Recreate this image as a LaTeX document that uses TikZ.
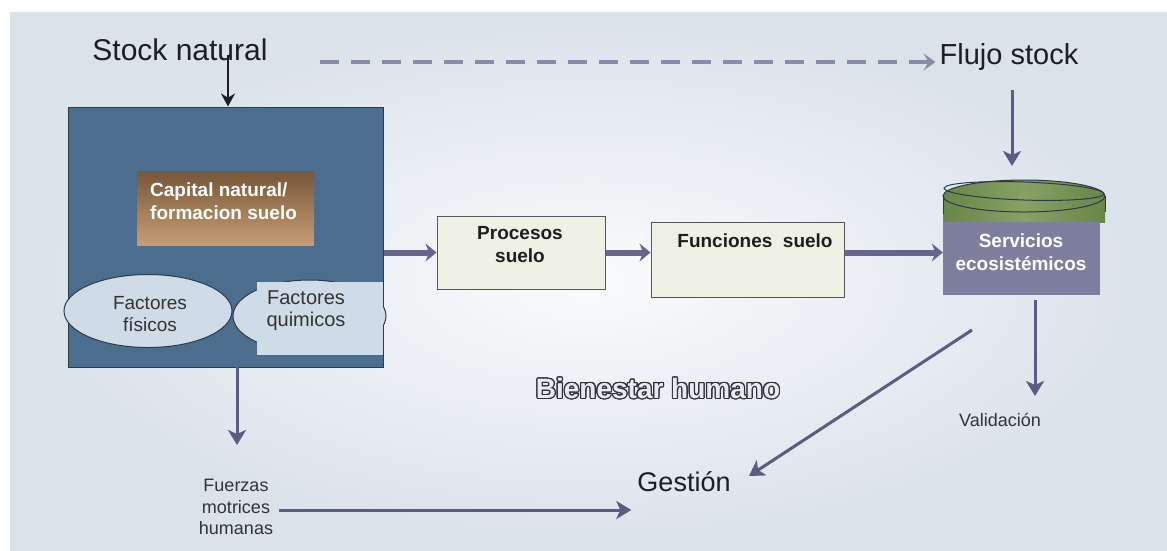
\documentclass[tikz,border=0pt]{standalone}
\usepackage{fontspec}
\setmainfont{Liberation Sans}
\usepackage[copies]{contour}
\usetikzlibrary{arrows.meta,shapes.geometric}

\definecolor{bgin}{HTML}{FAFBFC}
\definecolor{bgout}{HTML}{DAE2EA}
\definecolor{natfill}{HTML}{4B6E8E}
\definecolor{natline}{HTML}{2C3A4A}
\definecolor{ovfill}{HTML}{CFDCE7}
\definecolor{captop}{HTML}{765739}
\definecolor{capbot}{HTML}{C79D72}
\definecolor{procfill}{HTML}{EEF1E3}
\definecolor{procline}{HTML}{55585A}
\definecolor{servfill}{HTML}{7E7E9E}
\definecolor{grnedge}{HTML}{6A8548}
\definecolor{grnmid}{HTML}{88A064}
\definecolor{arrc}{HTML}{5C5C82}
\definecolor{thickc}{HTML}{66668C}
\definecolor{dashc}{HTML}{8A8AAB}
\definecolor{txtc}{HTML}{1E1E1E}
\definecolor{smalltxt}{HTML}{333333}
\definecolor{bienfill}{HTML}{E9EBF0}
\definecolor{bienline}{HTML}{2F3038}

\contourlength{1.2pt}

\tikzset{
  bigtext/.style={font=\fontsize{29}{34}\selectfont, text=txtc, inner sep=4pt},
  midtext/.style={font=\fontsize{19}{22}\selectfont, text=smalltxt, align=center, inner sep=2pt},
  boldtext/.style={font=\fontsize{19}{23}\selectfont\bfseries, align=center, inner sep=0pt},
  natbox/.style={draw=natline, fill=natfill, line width=1pt, inner sep=0pt},
  factov/.style={ellipse, draw=natline, fill=ovfill, line width=1pt, inner sep=0pt},
  procbox/.style={draw=procline, fill=procfill, line width=1pt, inner sep=0pt},
  flowarrow/.style={draw=thickc, line width=6pt, -{Stealth[length=11pt,width=18pt]}},
  thinarrow/.style={draw=arrc, line width=3pt, -{Stealth[length=15pt,width=18pt,inset=4pt]}},
  dasharrow/.style={draw=dashc, line width=4pt, dash pattern=on 19pt off 12pt,
    -{Stealth[length=12pt,width=17pt,inset=5pt]}},
  blackarrow/.style={draw=txtc, line width=2.5pt, -{Stealth[length=13pt,width=14pt]}},
}

\begin{document}
\begin{tikzpicture}[x=1pt,y=-1pt]
\useasboundingbox (0,0) rectangle (1167,550);
% backdrop
\fill[white] (0,0) rectangle (1167,550);
\shade[inner color=bgin, outer color=bgout] (10,12) rectangle (1167,550);

% natural stock block
\node[natbox, minimum width=315pt, minimum height=260pt] (nat) at (225.5,237) {};
\node[top color=captop, bottom color=capbot, minimum width=177pt, minimum height=74pt,
      inner sep=0pt] (cap) at (225.5,208) {};
\node[boldtext, text=white, align=left, anchor=west] (capt) at (150,201)
  {Capital natural/\\formacion suelo};

\node[factov, minimum width=168pt, minimum height=73pt] (fis) at (148,311) {};
\node[midtext] (fist) at (150,314) {Factores\\físicos};

\node[factov, minimum width=153pt, minimum height=72pt] (qui) at (309.5,316) {};
\fill[ovfill] (257,282) rectangle (382.5,355);
\node[midtext, font=\fontsize{20}{22}\selectfont] (quit) at (306,311) {Factores\\quimicos};

% process chain
\node[procbox, minimum width=168pt, minimum height=73pt] (proc) at (521,252.5) {};
\node[boldtext, text=txtc] (proct) at (520,245) {Procesos\\suelo};

\node[procbox, minimum width=193pt, minimum height=75pt] (func) at (747.5,259.5) {};
\node[boldtext, text=txtc] (funct) at (755,241) {Funciones\ \ suelo};

% ecosystem services drum
\shade[left color=grnedge, right color=grnedge, middle color=grnmid]
  (943,196) -- (943,222) -- (1105,222) -- (1105,196) -- cycle;
\shade[left color=grnedge, right color=grnedge, middle color=grnmid]
  (1024,196) ellipse [x radius=81, y radius=16];
\draw[natline, line width=1pt] (1024,196) ellipse [x radius=81, y radius=16];
\draw[natline, line width=1pt, rotate around={-2:(1024,191)}] (1024,191) ellipse [x radius=80, y radius=9];
\draw[natline, line width=1pt] (943,196) -- (943,214);
\draw[natline, line width=1pt] (1105,196) -- (1105,212);
\node[fill=servfill, minimum width=157pt, minimum height=73pt, inner sep=0pt] (serv) at (1021.5,258.5) {};
\node[boldtext, text=white] (servt) at (1021,252) {Servicios\\ecosistémicos};

% labels
\node[bigtext, font=\fontsize{30}{34}\selectfont] (stock) at (180,50) {Stock natural};
\node[bigtext] (flujo) at (1009,57) {Flujo stock};
\node[bigtext, font=\fontsize{27}{32}\selectfont] (gest) at (684,482) {Gestión};
\node[midtext, font=\fontsize{18}{21.5}\selectfont] (fuer) at (236,507) {Fuerzas\\motrices\\humanas};
\node[midtext, font=\fontsize{18}{21}\selectfont] (valid) at (1000,420) {Validación};
\node[inner sep=0pt] (bien) at (658,389)
  {\fontsize{28}{34}\selectfont\bfseries\contour{bienline}{\textcolor{bienfill}{Bienestar humano}}};

% connectors
\coordinate (dstart) at (320,62);
\coordinate (sttop) at (228,55);
\coordinate (flbot) at (1012,90);
\coordinate (svtop) at (1012,166);
\coordinate (vtop) at (1035,300);
\coordinate (vbot) at (1035,396);
\coordinate (gstart) at (972,330);
\coordinate (gend) at (749,476);
\coordinate (fstart) at (237,367);
\coordinate (fend) at (237,445);

\draw[blackarrow] (sttop) -- (sttop |- nat.north);
\draw[dasharrow] (dstart) -- (dstart -| flujo.west);
\draw[thinarrow] (flbot) -- (svtop);

\draw[flowarrow] (nat.east |- proc.west) -- (proc.west);
\draw[flowarrow] (proc.east) -- (proc.east -| func.west);
\draw[flowarrow] (func.east |- proc.east) -- (serv.west |- proc.east);

\draw[thinarrow] (vtop) -- (vbot);
\draw[thinarrow] (gstart) -- (gend);
\draw[thinarrow] (fstart) -- (fend);
\draw[thinarrow] ([xshift=4pt,yshift=-3pt]fuer.east) -- ([xshift=-2pt,yshift=-3pt]fuer.east -| gest.west);
\end{tikzpicture}
\end{document}
